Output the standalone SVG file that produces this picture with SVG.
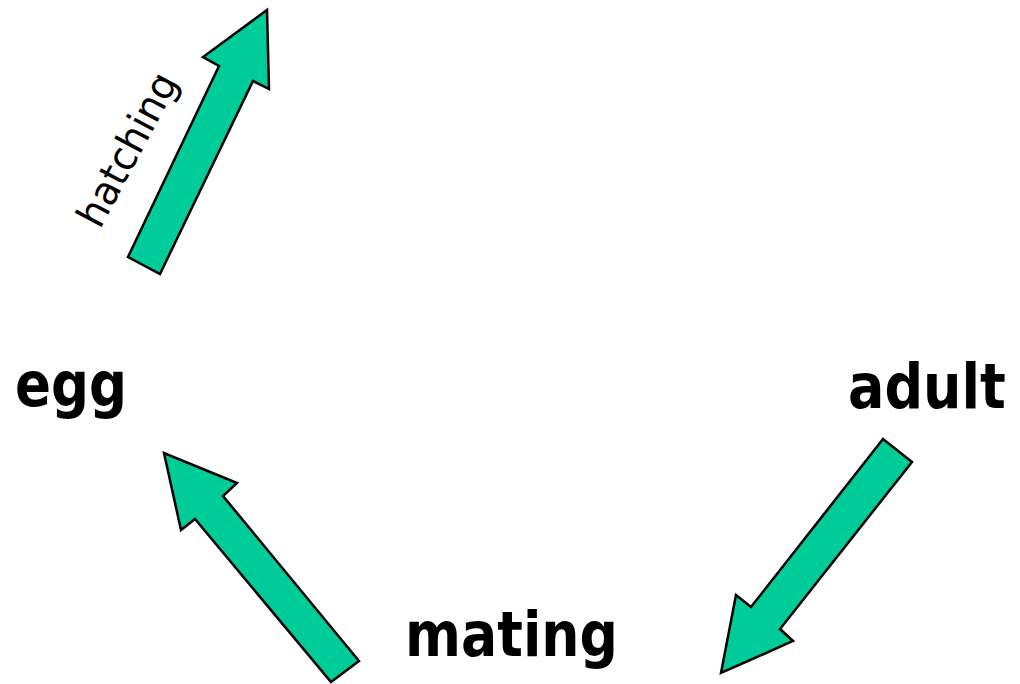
<svg xmlns="http://www.w3.org/2000/svg" width="1020" height="684" viewBox="0 0 1020 684">
<style>
.arrow{fill:#00CC99;stroke:#000;stroke-width:2.5;stroke-linejoin:miter}
.lbl{font-family:"DejaVu Sans","Liberation Sans",sans-serif;font-weight:bold;font-size:62px;fill:#000}
.small{font-family:"DejaVu Sans","Liberation Sans",sans-serif;font-size:40px;fill:#000}
</style>
<rect width="1020" height="684" fill="#fff"/>
<g id="egg"><text class="lbl" x="15" y="406" textLength="112" lengthAdjust="spacingAndGlyphs">egg</text></g>
<g id="adult"><text class="lbl" style="font-size:54px" transform="translate(848 408) scale(1 1.14)" x="0" y="0">adult</text></g>
<g id="mating"><text class="lbl" x="405" y="656" textLength="213" lengthAdjust="spacingAndGlyphs">mating</text></g>
<g id="connectors">
<polygon class="arrow" points="128,257 219,66 203,57 267,10 269,89 253,81 160,274"/>
<text class="small" x="100" y="230" textLength="168" lengthAdjust="spacingAndGlyphs" transform="rotate(-62 100 230)">hatching</text>
<polygon class="arrow" points="883,439 912,462 780,629 793,641 721,673 736,595 751,607"/>
<polygon class="arrow" points="359,661 331,682 195,519 181,530 164,453 237,483 223,496"/>
</g>
</svg>
